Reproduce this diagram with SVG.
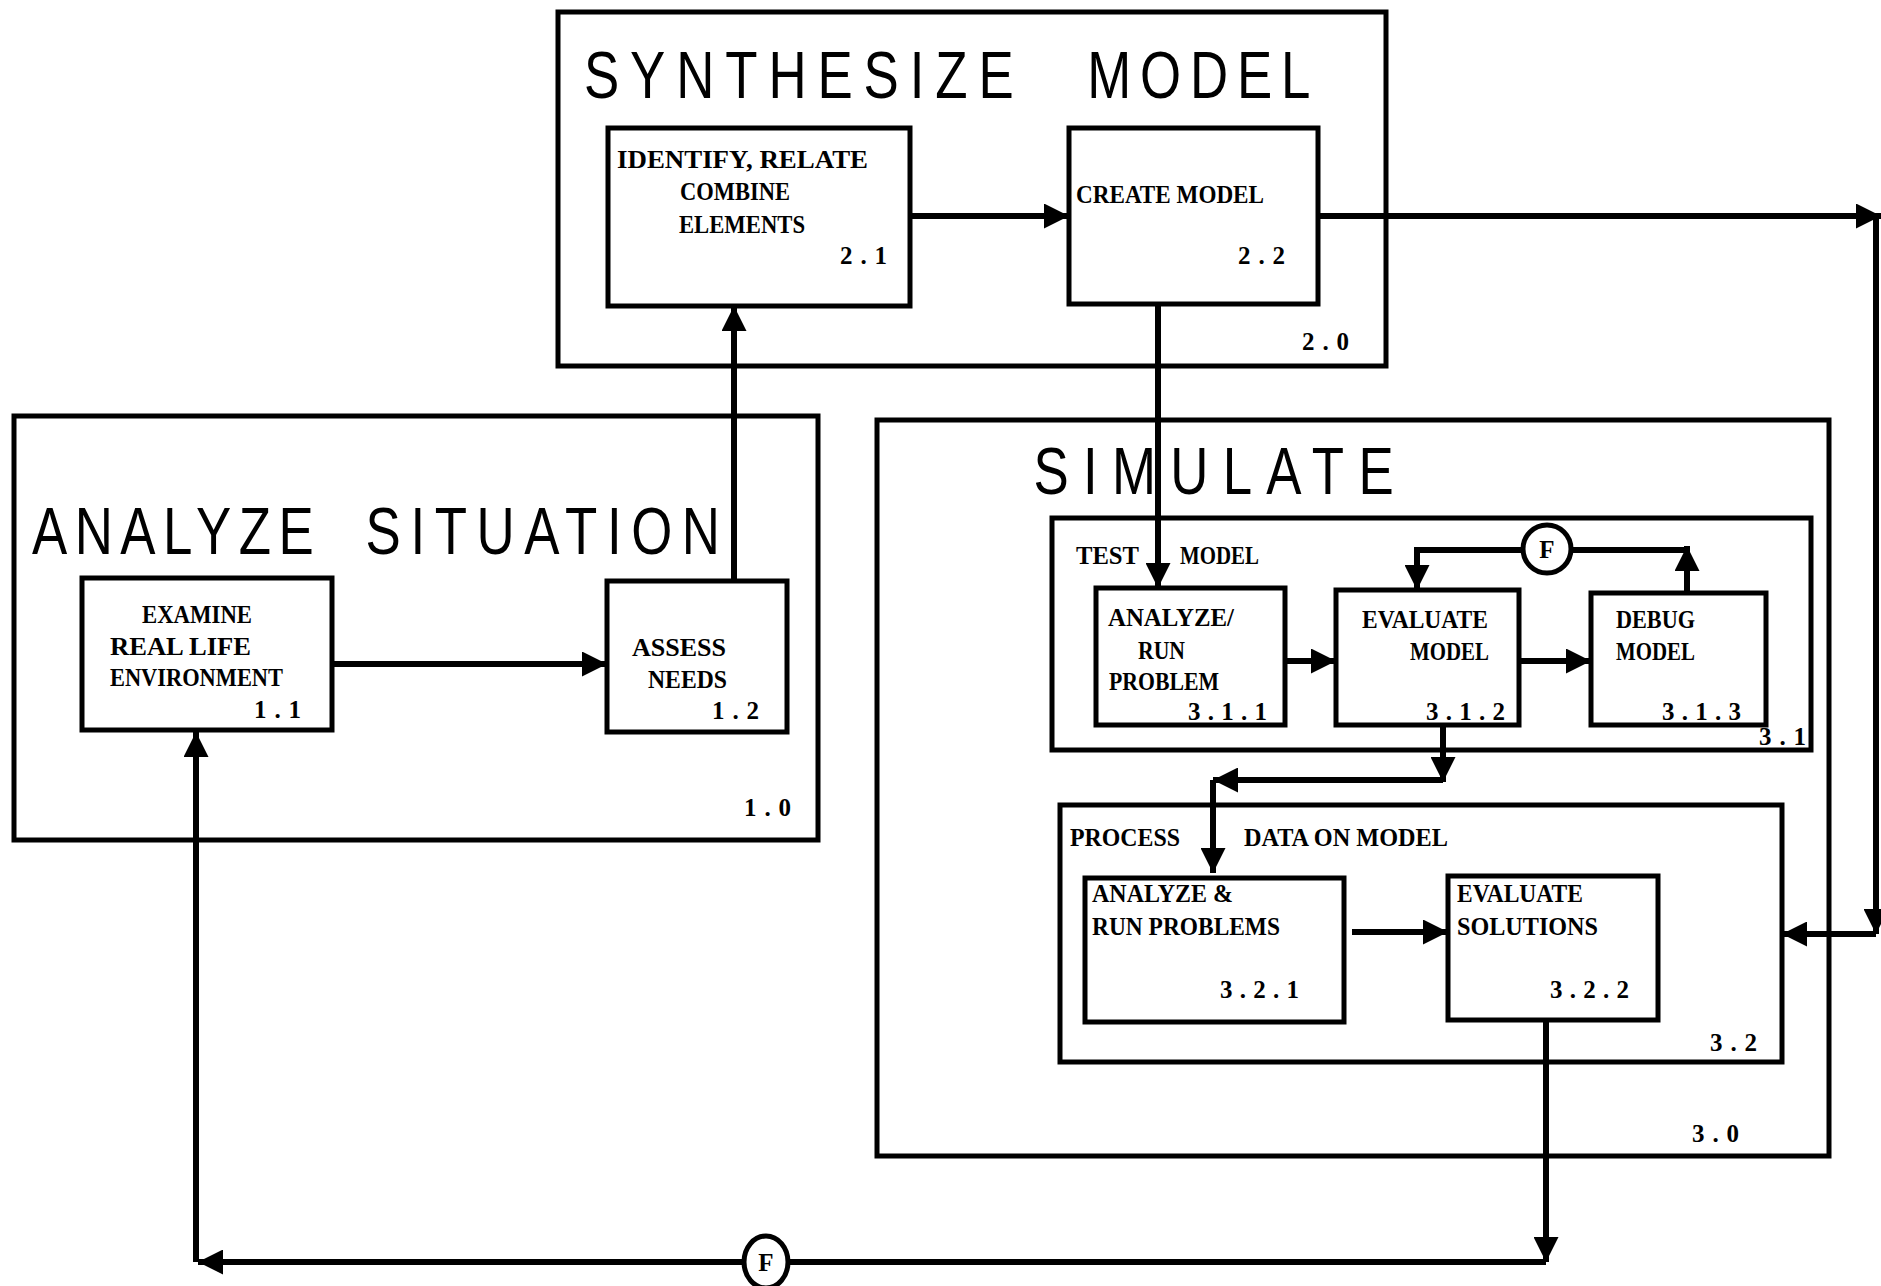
<svg xmlns="http://www.w3.org/2000/svg" width="1881" height="1286" viewBox="0 0 1881 1286">
<style>
.box{fill:none;stroke:#000;stroke-width:5}
.nb{fill:#fff;stroke:#000;stroke-width:5}
.ln{fill:none;stroke:#000;stroke-width:6}
.tt{font-family:"Liberation Sans","DejaVu Sans",sans-serif;font-size:66px;fill:#000}
.tw{font-family:"Liberation Serif","DejaVu Serif",serif;font-size:25px;font-weight:bold;fill:#000}
.fc{fill:#fff;stroke:#000;stroke-width:5}
</style>
<defs>
<marker id="ah" viewBox="0 0 10 10" refX="10" refY="5" markerUnits="userSpaceOnUse" markerWidth="26" markerHeight="25" orient="auto">
<path d="M0,0 L10,5 L0,10 z" fill="#000"/>
</marker>
</defs>
<rect width="1881" height="1286" fill="#fff"/>

<g id="g2_0">
<rect class="box" x="558" y="12" width="828" height="354"/>
<g transform="scale(0.8 1)">
<text class="tt" x="730" y="98" textLength="537" lengthAdjust="spacing">SYNTHESIZE</text>
<text class="tt" x="1359" y="98" textLength="279" lengthAdjust="spacing">MODEL</text>
</g>
<text class="tw" x="1302" y="350" textLength="47" lengthAdjust="spacing">2.0</text>
</g>
<g id="n2_1">
<rect class="nb" x="608" y="128" width="302" height="178"/>
<text class="tw" x="617" y="168" textLength="251" lengthAdjust="spacingAndGlyphs">IDENTIFY, RELATE</text>
<text class="tw" x="680" y="200" textLength="110" lengthAdjust="spacingAndGlyphs">COMBINE</text>
<text class="tw" x="679" y="233" textLength="126" lengthAdjust="spacingAndGlyphs">ELEMENTS</text>
<text class="tw" x="840" y="264" textLength="47" lengthAdjust="spacing">2.1</text>
</g>
<g id="n2_2">
<rect class="nb" x="1069" y="128" width="249" height="176"/>
<text class="tw" x="1076" y="203" textLength="188" lengthAdjust="spacingAndGlyphs">CREATE MODEL</text>
<text class="tw" x="1238" y="264" textLength="47" lengthAdjust="spacing">2.2</text>
</g>

<g id="g1_0">
<rect class="box" x="14" y="416" width="804" height="424"/>
<g transform="scale(0.8 1)">
<text class="tt" x="40" y="554" textLength="352" lengthAdjust="spacing">ANALYZE</text>
<text class="tt" x="457" y="554" textLength="443" lengthAdjust="spacing">SITUATION</text>
</g>
<text class="tw" x="744" y="816" textLength="47" lengthAdjust="spacing">1.0</text>
</g>
<g id="n1_1">
<rect class="nb" x="82" y="578" width="250" height="152"/>
<text class="tw" x="142" y="623" textLength="110" lengthAdjust="spacingAndGlyphs">EXAMINE</text>
<text class="tw" x="110" y="655" textLength="141" lengthAdjust="spacingAndGlyphs">REAL LIFE</text>
<text class="tw" x="110" y="686" textLength="173" lengthAdjust="spacingAndGlyphs">ENVIRONMENT</text>
<text class="tw" x="254" y="718" textLength="47" lengthAdjust="spacing">1.1</text>
</g>
<g id="n1_2">
<rect class="nb" x="607" y="581" width="180" height="151"/>
<text class="tw" x="632" y="656" textLength="94" lengthAdjust="spacingAndGlyphs">ASSESS</text>
<text class="tw" x="648" y="688" textLength="79" lengthAdjust="spacingAndGlyphs">NEEDS</text>
<text class="tw" x="712" y="719" textLength="47" lengthAdjust="spacing">1.2</text>
</g>

<g id="g3_0">
<rect class="box" x="877" y="420" width="952" height="736"/>
<g transform="scale(0.8 1)">
<text class="tt" x="1292" y="494" textLength="450" lengthAdjust="spacing">SIMULATE</text>
</g>
<text class="tw" x="1692" y="1142" textLength="47" lengthAdjust="spacing">3.0</text>
</g>
<g id="g3_1">
<rect class="box" x="1052" y="518" width="759" height="232"/>
<text class="tw" x="1076" y="564" textLength="63" lengthAdjust="spacingAndGlyphs">TEST</text>
<text class="tw" x="1180" y="564" textLength="79" lengthAdjust="spacingAndGlyphs">MODEL</text>
<text class="tw" x="1759" y="745" textLength="47" lengthAdjust="spacing">3.1</text>
</g>
<g id="n3_1_1">
<rect class="nb" x="1096" y="588" width="189" height="137"/>
<text class="tw" x="1108" y="626" textLength="126" lengthAdjust="spacingAndGlyphs">ANALYZE/</text>
<text class="tw" x="1138" y="659" textLength="47" lengthAdjust="spacingAndGlyphs">RUN</text>
<text class="tw" x="1109" y="690" textLength="110" lengthAdjust="spacingAndGlyphs">PROBLEM</text>
<text class="tw" x="1188" y="720" textLength="79" lengthAdjust="spacing">3.1.1</text>
</g>
<g id="n3_1_2">
<rect class="nb" x="1336" y="590" width="183" height="135"/>
<text class="tw" x="1362" y="628" textLength="126" lengthAdjust="spacingAndGlyphs">EVALUATE</text>
<text class="tw" x="1410" y="660" textLength="79" lengthAdjust="spacingAndGlyphs">MODEL</text>
<text class="tw" x="1426" y="720" textLength="79" lengthAdjust="spacing">3.1.2</text>
</g>
<g id="n3_1_3">
<rect class="nb" x="1591" y="593" width="175" height="132"/>
<text class="tw" x="1616" y="628" textLength="79" lengthAdjust="spacingAndGlyphs">DEBUG</text>
<text class="tw" x="1616" y="660" textLength="79" lengthAdjust="spacingAndGlyphs">MODEL</text>
<text class="tw" x="1662" y="720" textLength="79" lengthAdjust="spacing">3.1.3</text>
</g>
<g id="g3_2">
<rect class="box" x="1060" y="805" width="722" height="257"/>
<text class="tw" x="1070" y="846" textLength="110" lengthAdjust="spacingAndGlyphs">PROCESS</text>
<text class="tw" x="1244" y="846" textLength="204" lengthAdjust="spacingAndGlyphs">DATA ON MODEL</text>
<text class="tw" x="1710" y="1051" textLength="47" lengthAdjust="spacing">3.2</text>
</g>
<g id="n3_2_1">
<rect class="nb" x="1085" y="878" width="259" height="144"/>
<text class="tw" x="1092" y="902" textLength="141" lengthAdjust="spacingAndGlyphs">ANALYZE &amp;</text>
<text class="tw" x="1092" y="935" textLength="188" lengthAdjust="spacingAndGlyphs">RUN PROBLEMS</text>
<text class="tw" x="1220" y="998" textLength="79" lengthAdjust="spacing">3.2.1</text>
</g>
<g id="n3_2_2">
<rect class="nb" x="1448" y="876" width="210" height="144"/>
<text class="tw" x="1457" y="902" textLength="126" lengthAdjust="spacingAndGlyphs">EVALUATE</text>
<text class="tw" x="1457" y="935" textLength="141" lengthAdjust="spacingAndGlyphs">SOLUTIONS</text>
<text class="tw" x="1550" y="998" textLength="79" lengthAdjust="spacing">3.2.2</text>
</g>

<g id="connectors">
<path class="ln" d="M332 664 H607" marker-end="url(#ah)"/>
<path class="ln" d="M734 581 V306" marker-end="url(#ah)"/>
<path class="ln" d="M910 216 H1069" marker-end="url(#ah)"/>
<path class="ln" d="M1318 216 H1881" marker-end="url(#ah)"/>
<path class="ln" d="M1876 216 V934" marker-end="url(#ah)"/>
<path class="ln" d="M1876 934 H1782" marker-end="url(#ah)"/>
<path class="ln" d="M1158 304 V588" marker-end="url(#ah)"/>
<path class="ln" d="M1285 661 H1336" marker-end="url(#ah)"/>
<path class="ln" d="M1519 661 H1591" marker-end="url(#ah)"/>
<path class="ln" d="M1687 593 V546" marker-end="url(#ah)"/>
<path class="ln" d="M1687 550 H1547"/>
<path class="ln" d="M1547 550 H1417 V590" marker-end="url(#ah)"/>
<path class="ln" d="M1443 725 V782" marker-end="url(#ah)"/>
<path class="ln" d="M1443 780 H1213" marker-end="url(#ah)"/>
<path class="ln" d="M1213 780 V873" marker-end="url(#ah)"/>
<path class="ln" d="M1352 932 H1448" marker-end="url(#ah)"/>
<path class="ln" d="M1546 1020 V1262" marker-end="url(#ah)"/>
<path class="ln" d="M1546 1262 H198" marker-end="url(#ah)"/>
<path class="ln" d="M196 1262 V732" marker-end="url(#ah)"/>
<g id="f1">
<circle class="fc" cx="1547" cy="549" r="24"/>
<text class="tw" x="1547" y="558" text-anchor="middle">F</text>
</g>
<g id="f2">
<ellipse class="fc" cx="766" cy="1262" rx="22" ry="26"/>
<text class="tw" x="766" y="1271" text-anchor="middle">F</text>
</g>
</g>
</svg>
